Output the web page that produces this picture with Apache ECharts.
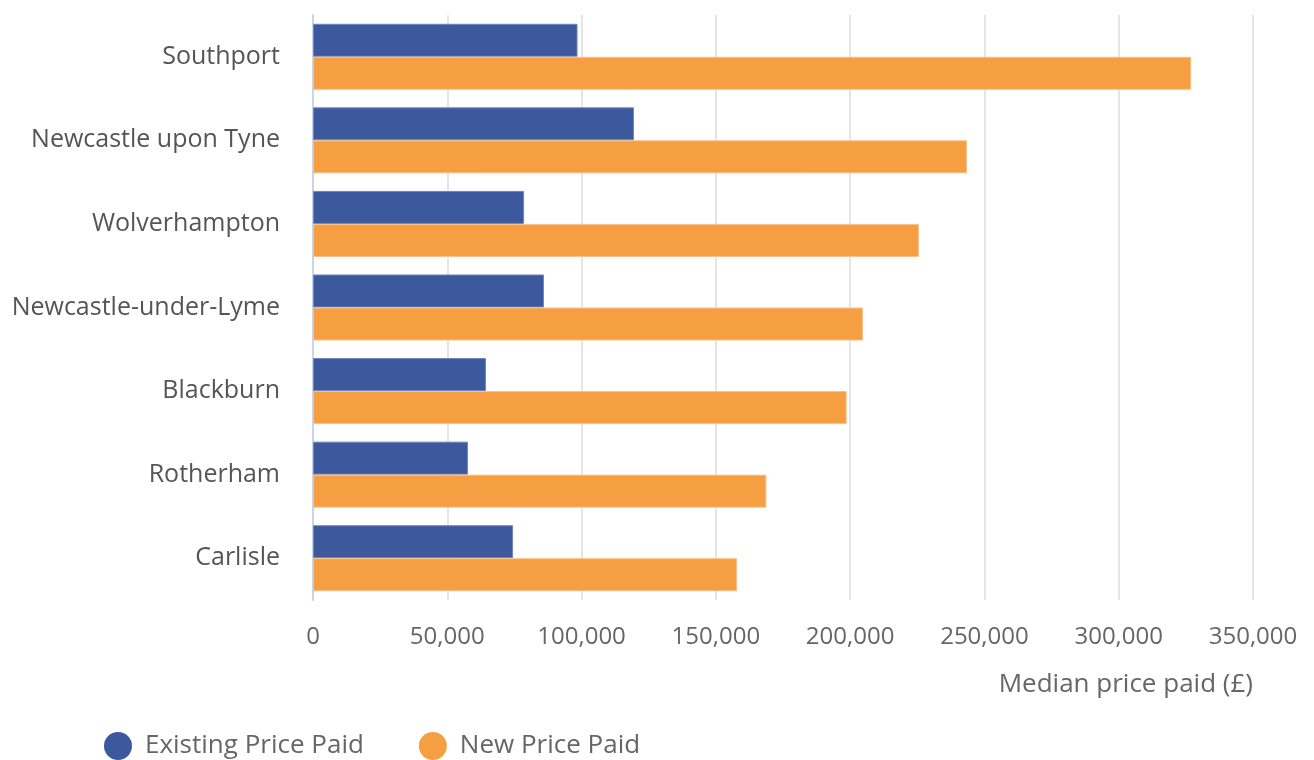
<!DOCTYPE html>
<html>
<head>
<meta charset="utf-8">
<script src="https://cdn.jsdelivr.net/npm/echarts@6/dist/echarts.min.js"></script>
<style>
  html, body { margin: 0; padding: 0; background: #fff; }
  #chart { width: 1314px; height: 760px; }
</style>
</head>
<body>
<div id="chart"></div>
<script>
// towns, top to bottom
var towns = ['Southport', 'Newcastle upon Tyne', 'Wolverhampton', 'Newcastle-under-Lyme',
             'Blackburn', 'Rotherham', 'Carlisle'];
// median prices (£)
var existingPaid = [98500, 119500, 78600, 86000, 64400, 57700, 74500];
var newPaid = [327000, 243500, 225600, 204800, 198700, 168800, 157900];

var seriesNames = ['Existing Price Paid', 'New Price Paid'];

var chart = echarts.init(document.getElementById('chart'));
chart.setOption({
    textStyle: { fontFamily: 'Open Sans' },
    color: ['#3c599e', '#f59e42'],
    grid: { left: 313, right: 61, top: 15, bottom: 160 },
    legend: {
        left: 99,
        top: 727,
        icon: 'circle',
        itemWidth: 28,
        itemHeight: 28,
        itemGap: 55,
        itemStyle: { borderWidth: 0 },
        textStyle: { fontSize: 26, color: '#666', padding: [0, 0, 0, 8] },
        data: seriesNames
    },
    xAxis: {
        type: 'value',
        min: 0,
        max: 350000,
        interval: 50000,
        axisLine: { show: false },
        axisTick: { show: false },
        splitLine: { lineStyle: { color: '#e5e5e5', width: 2 } },
        axisLabel: {
            fontSize: 24,
            color: '#666',
            margin: 25,
            formatter: function (v) { return v.toLocaleString('en-GB'); }
        },
        name: 'Median price paid (£)',
        nameLocation: 'end',
        nameGap: 0,
        nameTextStyle: {
            fontSize: 26,
            color: '#666',
            align: 'right',
            verticalAlign: 'top',
            padding: [72, 0, 0, 0]
        }
    },
    yAxis: {
        type: 'category',
        inverse: true,
        data: towns,
        axisLine: { lineStyle: { color: '#c9d3ea', width: 2 } },
        axisTick: { length: 22, lineStyle: { color: '#c9d3ea', width: 2 } },
        axisLabel: { fontSize: 25, color: '#555', margin: 33 }
    },
    series: [{
        name: seriesNames[0],
        type: 'bar',
        barGap: 0,
        barCategoryGap: '21%',
        itemStyle: { borderColor: '#6f86bb', borderWidth: 1 },
        data: existingPaid
    }, {
        name: seriesNames[1],
        type: 'bar',
        barGap: 0,
        barCategoryGap: '21%',
        itemStyle: { borderColor: '#f8c08a', borderWidth: 1 },
        data: newPaid
    }]
});
</script>
</body>
</html>
